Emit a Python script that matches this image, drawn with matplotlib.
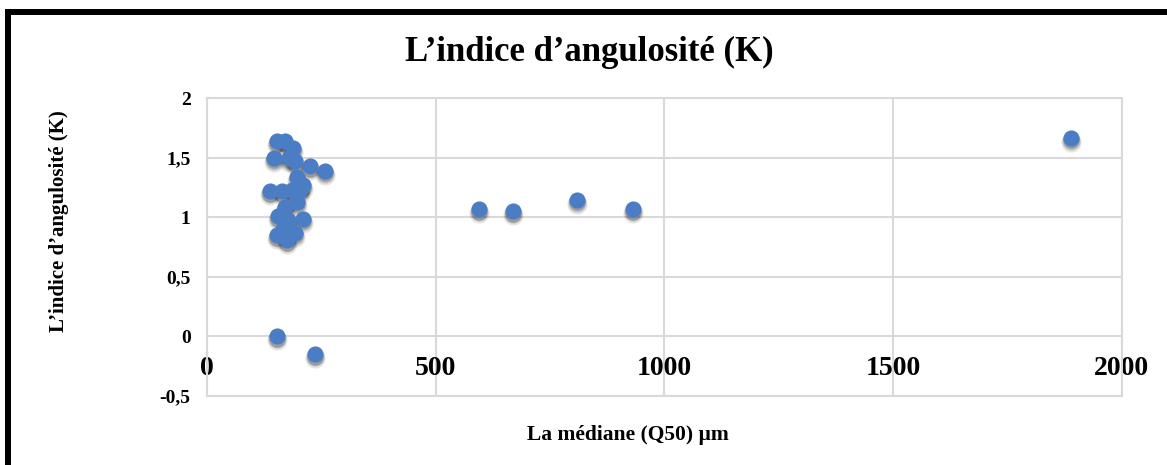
import matplotlib.pyplot as plt
import matplotlib.transforms as mtransforms
from matplotlib.lines import Line2D

plt.rcParams['font.family'] = ['Liberation Serif', 'DejaVu Serif']
plt.rcParams['font.weight'] = 'bold'

# médiane Q50 (µm) et indice d'angulosité K
q50 = [152, 236, 152, 170, 188, 146, 179, 192, 225, 257, 196, 210, 137, 163,
       185, 203, 196, 170, 155, 177, 210, 152, 174, 192, 166,
       595, 668, 808, 931, 1890]
k = [0.0, -0.15, 1.64, 1.64, 1.58, 1.50, 1.50, 1.47, 1.43, 1.39, 1.34, 1.27,
     1.22, 1.22, 1.23, 1.23, 1.13, 1.09, 1.01, 0.98, 0.99, 0.85, 0.81, 0.87,
     0.90, 1.07, 1.05, 1.15, 1.07, 1.67]

x_ticks = [0, 500, 1000, 1500, 2000]
y_ticks = [-0.5, 0, 0.5, 1, 1.5, 2]
y_tick_labels = ['-0,5', '0', '0,5', '1', '1,5', '2']

grid_col = '#D9D9D9'
blue = '#4A7DC4'

fig = plt.figure(figsize=(11.67, 4.65), dpi=100)
ax = fig.add_axes([0.1776, 0.1484, 0.7836, 0.6402])

ax.set_xlim(0, 2000)
ax.set_ylim(-0.5, 2)
ax.set_xticks(x_ticks)
ax.set_yticks(y_ticks)
ax.set_yticklabels(y_tick_labels)
ax.grid(True, color=grid_col, linewidth=1.5)
ax.set_axisbelow(True)

for side in ['left', 'top', 'right']:
    ax.spines[side].set_color(grid_col)
    ax.spines[side].set_linewidth(1.5)
# l'axe des x coupe à y = 0
ax.spines['bottom'].set_position(('data', 0))
ax.spines['bottom'].set_visible(False)
ax.axhline(-0.5, color=grid_col, linewidth=1.5, clip_on=False)

ax.tick_params(axis='x', length=0, pad=14, labelsize=20)
ax.tick_params(axis='y', length=0, pad=12, labelsize=14)
for lab in ax.get_xticklabels() + ax.get_yticklabels():
    lab.set_fontweight('bold')

# ombre floue sous les points
for dy, a, s in [(4, 0.10, 210), (3, 0.15, 170), (2.5, 0.20, 140)]:
    off = mtransforms.offset_copy(ax.transData, fig=fig, x=0, y=-dy, units='dots')
    ax.scatter(q50, k, s=s, color='black', alpha=a, linewidths=0, transform=off, zorder=2)
ax.scatter(q50, k, s=135, color=blue, linewidths=0, zorder=3)

ax.set_ylabel("L’indice d’angulosité (K)", fontsize=15, fontweight='bold', labelpad=0)
ax.yaxis.set_label_coords(-0.151, 0.588)

fig.text(0.505, 0.888, "L’indice d’angulosité (K)", ha='center', va='center',
         fontsize=25, fontweight='bold')
fig.text(0.538, 0.0645, "La médiane (Q50) µm", ha='center', va='center',
         fontsize=15.5, fontweight='bold')

# cadre noir
W, H = 1167, 465
fig.add_artist(Line2D([8 / W, 8 / W], [0, 1 - 9 / H], transform=fig.transFigure,
                      color='black', linewidth=4.3, solid_capstyle='butt'))
fig.add_artist(Line2D([5 / W, 1], [1 - 12 / H, 1 - 12 / H], transform=fig.transFigure,
                      color='black', linewidth=4.3, solid_capstyle='butt'))

fig.savefig('out.png', dpi=100)
